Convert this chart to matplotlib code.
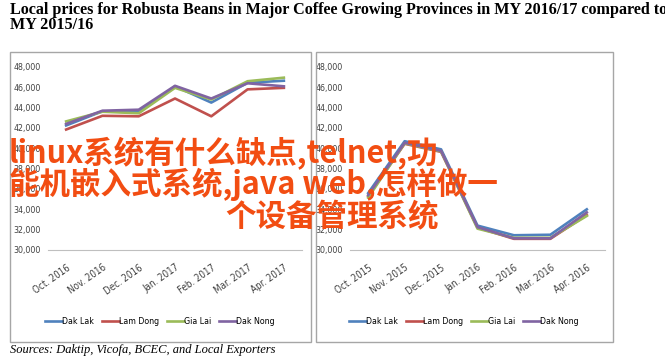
import matplotlib
matplotlib.use("Agg")
import matplotlib.pyplot as plt
from matplotlib.patches import Rectangle
from matplotlib.ticker import FuncFormatter

# data
months_1617 = ["Oct. 2016", "Nov. 2016", "Dec. 2016", "Jan. 2017", "Feb. 2017", "Mar. 2017", "Apr. 2017"]
months_1516 = ["Oct. 2015", "Nov. 2015", "Dec. 2015", "Jan. 2016", "Feb. 2016", "Mar. 2016", "Apr. 2016"]
provinces = ["Dak Lak", "Lam Dong", "Gia Lai", "Dak Nong"]

dak_lak_1617 = [42250, 43650, 43550, 46100, 44500, 46450, 46650]
lam_dong_1617 = [41850, 43200, 43150, 44900, 43150, 45800, 45950]
gia_lai_1617 = [42650, 43600, 43450, 45950, 44800, 46600, 46950]
dak_nong_1617 = [42400, 43700, 43800, 46150, 44900, 46400, 46100]

dak_lak_1516 = [35600, 40700, 39900, 32400, 31450, 31500, 34000]
lam_dong_1516 = [35300, 40450, 39650, 32200, 31100, 31100, 33450]
gia_lai_1516 = [35150, 40500, 39700, 32100, 31200, 31200, 33350]
dak_nong_1516 = [35400, 40550, 39750, 32250, 31150, 31150, 33700]

colors = ["#4F81BD", "#C0504D", "#9BBB59", "#8064A2"]

tick_font = dict(family="DejaVu Sans", stretch="condensed", size=6.3)
xtick_font = dict(family="DejaVu Sans", stretch="condensed", size=7)

W, H = 665, 359
fig = plt.figure(figsize=(W / 100, H / 100), dpi=100)


def fx(x):
    return x / W


def fy(y):
    return 1 - y / H


# panel boxes
for x0, x1 in [(10, 311), (316, 613)]:
    fig.patches.append(Rectangle((fx(x0), fy(342)), fx(x1 - x0), (342 - 52) / H,
                                 transform=fig.transFigure, fill=False,
                                 edgecolor="#a6a6a6", linewidth=1.0))


def panel(left, right, months, series, legend_x):
    ax = fig.add_axes([fx(left), fy(250), fx(right - left), (250 - 67) / H])
    for vals, c, name in zip(series, colors, provinces):
        ax.plot(range(len(months)), vals, color=c, linewidth=1.9, label=name)
    ax.set_xlim(-0.5, len(months) - 0.5)
    ax.set_ylim(30000, 48000)
    ax.set_yticks(range(30000, 48001, 2000))
    ax.yaxis.set_major_formatter(FuncFormatter(lambda v, p: "{:,.0f}".format(v)))
    ax.set_xticks(range(len(months)))
    ax.set_xticklabels(months, rotation=35, ha="right", rotation_mode="anchor",
                       fontproperties=xtick_font, color="#404040")
    for lab in ax.get_yticklabels():
        lab.set_fontproperties(tick_font)
        lab.set_color("#404040")
    for s in ["top", "right", "left"]:
        ax.spines[s].set_visible(False)
    ax.spines["bottom"].set_color("#bfbfbf")
    ax.tick_params(axis="both", length=0, pad=5)
    ax.tick_params(axis="x", pad=9)
    fig.legend(handles=ax.get_lines(), labels=provinces, loc="center",
               bbox_to_anchor=(fx(legend_x), fy(322)), ncol=4, frameon=False,
               handlelength=1.9, handletextpad=0.05, columnspacing=0.9,
               prop=tick_font)
    return ax


panel(48, 302, months_1617, [dak_lak_1617, lam_dong_1617, gia_lai_1617, dak_nong_1617], 160)
panel(350, 605, months_1516, [dak_lak_1516, lam_dong_1516, gia_lai_1516, dak_nong_1516], 464)

fig.text(fx(10), fy(2), "Local prices for Robusta Beans in Major Coffee Growing Provinces in MY 2016/17 compared to\nMY 2015/16",
         ha="left", va="top", family="Liberation Serif", fontweight="bold", fontsize=11.6,
         linespacing=0.9)
fig.text(fx(10), fy(350), "Sources: Daktip, Vicofa, BCEC, and Local Exporters",
         ha="left", va="center", family="Liberation Serif", style="italic", fontsize=9)

# watermark overlay
wm = dict(ha="left", va="baseline", family=["Noto Sans CJK SC", "DejaVu Sans"],
          fontweight="bold", fontsize=22, color="#f24d12")
fig.text(fx(9), fy(163), "linux系统有什么缺点,telnet,功", **wm)
fig.text(fx(9), fy(194), "能机嵌入式系统,java web,怎样做一", **wm)
fig.text(fx(225), fy(226), "个设备管理系统", **wm)

fig.savefig("out.png", dpi=100)
